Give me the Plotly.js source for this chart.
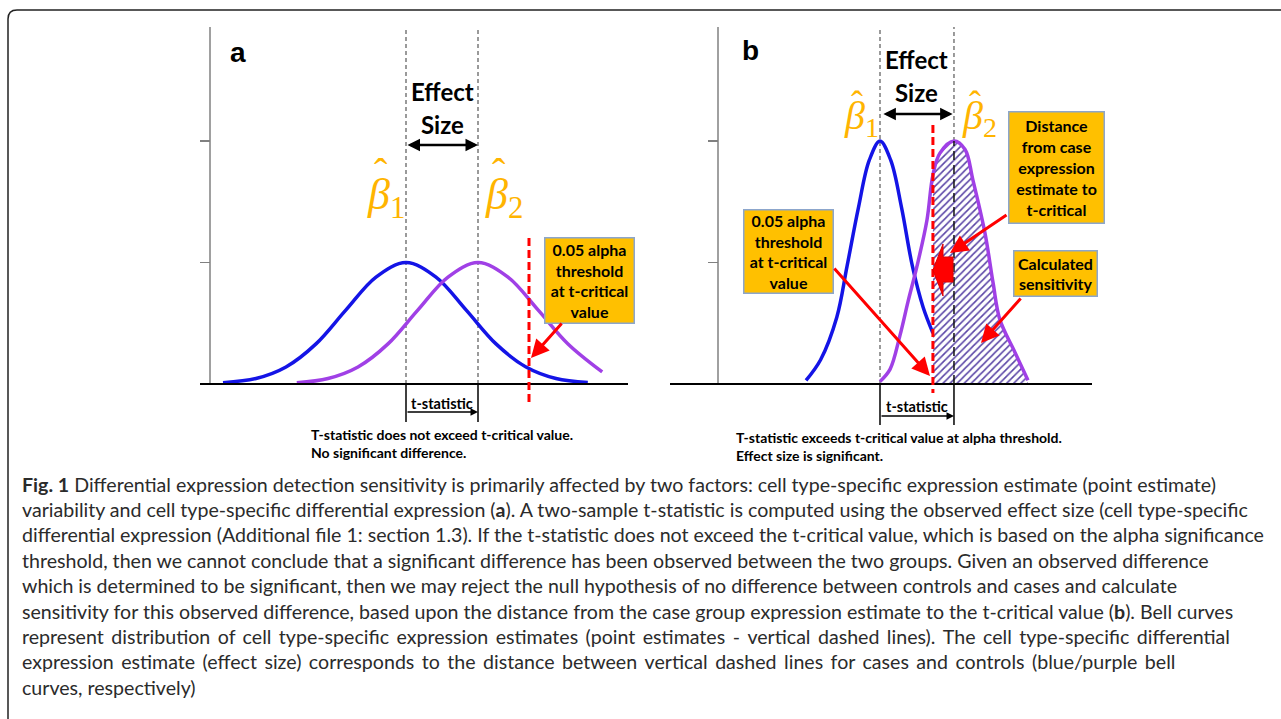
<!DOCTYPE html>
<html>
<head>
<meta charset="utf-8">
<script src="https://cdn.plot.ly/plotly-3.0.1.min.js"></script>
<style>html,body{margin:0;padding:0;background:#fff;}#chart{width:1281px;height:719px;}</style>
</head>
<body>
<div id="chart"></div>
<script>
// ---------------- data ----------------
// Panel a: x in units of one SD of the bell curves, y in y-tick units
const meansA = [0, 1.2];          // beta1 (controls, blue), beta2 (cases, purple)
const tCritA = 2.05;              // t-critical (red dashed)
const blueA_x = [-3.05, -2.5, -2, -1.5, -1, -0.5, 0, 0.5, 1, 1.5, 2, 2.5, 3.03];
const blueA_y = [0.01, 0.045, 0.14, 0.33, 0.61, 0.88, 1, 0.88, 0.61, 0.33, 0.14, 0.045, 0.012];
const purpleA_x = [-1.82, -1.3, -0.8, -0.3, 0.2, 0.7, 1.2, 1.7, 2.2, 2.7, 3.27];
const purpleA_y = [0.01, 0.045, 0.14, 0.33, 0.61, 0.88, 1, 0.88, 0.61, 0.33, 0.1];

// Panel b
const meansB = [0, 2.74];
const tCritB = 1.96;
const blueB_x = [-2.74, -2.2, -1.6, -1.22, -0.8, -0.4, 0, 0.4, 0.8, 1.2, 1.6, 1.96];
const blueB_y = [0.03, 0.2, 0.55, 0.97, 1.45, 1.84, 2.0, 1.84, 1.45, 0.97, 0.63, 0.42];
const purpleB_x = [0, 0.37, 0.74, 1.04, 1.37, 1.74, 1.96, 2.22, 2.74, 3.15, 3.44, 3.89, 4.19, 4.44, 5.0, 5.48];
const purpleB_y = [0.02, 0.12, 0.4, 0.68, 0.97, 1.35, 1.72, 1.9, 2.0, 1.93, 1.68, 1.24, 0.83, 0.53, 0.26, 0.03];

const yTicks = [1, 2];

// texts
const panelLabels = ['a', 'b'];
const effectWords = ['Effect', 'Size'];
const betaLabels = ['<i>β</i><sub>1</sub>', '<i>β</i><sub>2</sub>'];
const hatLabel = 'ˆ';
const tStatLabel = 't-statistic';
const alphaBoxLines = ['0.05 alpha', 'threshold', 'at t-critical', 'value'];
const distanceBoxLines = ['Distance', 'from case', 'expression', 'estimate to', 't-critical'];
const sensitivityBoxLines = ['Calculated', 'sensitivity'];
const noteA = ['T-statistic does not exceed t-critical value.', 'No significant difference.'];
const noteB = ['T-statistic exceeds t-critical value at alpha threshold.', 'Effect size is significant.'];
const captionLines = [
  '<b>Fig. 1</b> Differential expression detection sensitivity is primarily affected by two factors: cell type-specific expression estimate (point estimate)',
  'variability and cell type-specific differential expression (<b>a</b>). A two-sample t-statistic is computed using the observed effect size (cell type-specific',
  'differential expression (Additional file 1: section 1.3). If the t-statistic does not exceed the t-critical value, which is based on the alpha significance',
  'threshold, then we cannot conclude that a significant difference has been observed between the two groups. Given an observed difference',
  'which is determined to be significant, then we may reject the null hypothesis of no difference between controls and cases and calculate',
  'sensitivity for this observed difference, based upon the distance from the case group expression estimate to the t-critical value (<b>b</b>). Bell curves',
  'represent distribution of cell type-specific expression estimates (point estimates - vertical dashed lines). The cell type-specific differential',
  'expression estimate (effect size) corresponds to the distance between vertical dashed lines for cases and controls (blue/purple bell',
  'curves, respectively)'
];
// word spacing of the justified caption lines (index -> separator)
const captionSpacing = {6: ' \u2009', 7: ' \u2009'};

// ---------------- layout helpers ----------------
const W = 1281, H = 719;
const pxA = x => (x - 406) / 60;     // panel a pixel -> data
const pxB = x => (x - 880) / 27;     // panel b pixel -> data
const pyY = y => (384 - y) / 121.5;  // pixel -> y data (both panels)
const yTop = pyY(27), yBot = pyY(470);
const paperX = x => x / W, paperY = y => 1 - y / H;

const BLUE = '#1414E6', PURPLE = '#A040E6', RED = '#FF0000', GOLD = '#FFB400';
const BOLD = 'Lato, "Open Sans", sans-serif';

// hatch region = purple curve right of t-critical
const hatchX = [], hatchY = [];
purpleB_x.forEach((v, i) => { if (v >= tCritB) { hatchX.push(v); hatchY.push(purpleB_y[i]); } });

const traces = [
  {x: blueA_x, y: blueA_y, xaxis: 'x', yaxis: 'y', mode: 'lines', line: {color: BLUE, width: 3.5, shape: 'spline'}, hoverinfo: 'skip'},
  {x: purpleA_x, y: purpleA_y, xaxis: 'x', yaxis: 'y', mode: 'lines', line: {color: PURPLE, width: 3.5, shape: 'spline'}, hoverinfo: 'skip'},
  {x: blueB_x, y: blueB_y, xaxis: 'x2', yaxis: 'y2', mode: 'lines', line: {color: BLUE, width: 3.5, shape: 'spline'}, hoverinfo: 'skip'},
  {x: hatchX, y: hatchY, xaxis: 'x2', yaxis: 'y2', mode: 'none', fill: 'tozeroy', fillcolor: 'rgba(0,0,0,0)',
   line: {shape: 'spline'},
   fillpattern: {shape: '/', fgcolor: '#5A45A6', bgcolor: '#FFFFFF', size: 5, solidity: 0.32}, hoverinfo: 'skip'},
  {x: purpleB_x, y: purpleB_y, xaxis: 'x2', yaxis: 'y2', mode: 'lines', line: {color: PURPLE, width: 3.5, shape: 'spline'}, hoverinfo: 'skip'}
];

const shapes = [];
function vline(xref, yref, x, y0, y1, color, width, dash, layer) {
  shapes.push({type: 'line', xref, yref, x0: x, x1: x, y0, y1, layer: layer || 'above',
               line: {color, width, dash: dash || 'solid'}});
}
// y-axis lines and baselines
vline('x', 'y', pxA(210), 0, yTop, '#808080', 1.5, 'solid', 'below');
vline('x2', 'y2', pxB(718), 0, yTop, '#808080', 1.5, 'solid', 'below');
shapes.push({type: 'line', xref: 'x domain', yref: 'y', x0: 0, x1: 1, y0: 0, y1: 0, line: {color: '#000', width: 2}});
shapes.push({type: 'line', xref: 'x2 domain', yref: 'y2', x0: 0, x1: 1, y0: 0, y1: 0, line: {color: '#000', width: 2}});
// panel a point-estimate lines
meansA.forEach(m => vline('x', 'y', m, 0, yTop, '#7a7a7a', 1.5, '4px,3px', 'below'));
meansA.forEach(m => vline('x', 'y', m, 0, pyY(422), '#000', 1.5));
vline('x', 'y', tCritA, pyY(238), pyY(404), RED, 3, '8px,4px');
// panel b
const peakB = Math.max(...purpleB_y);
vline('x2', 'y2', meansB[0], 0, yTop, '#7a7a7a', 1.5, '4px,3px', 'below');
vline('x2', 'y2', meansB[1], peakB, yTop, '#7a7a7a', 1.5, '4px,3px', 'below');
vline('x2', 'y2', meansB[1], 0, peakB, '#111', 1.5, '9px,5px');
meansB.forEach(m => vline('x2', 'y2', m, 0, pyY(425), '#000', 1.5));
vline('x2', 'y2', tCritB, pyY(125), pyY(393), RED, 3, '8px,4px');
// red block arrow pointing to t-critical
(function () {
  const tip = [tCritB, pyY(270)], hx = pxB(943), bx = pxB(953);
  const p = [[tip[0], tip[1]], [hx, pyY(244)], [hx, pyY(257)], [bx, pyY(257)], [bx, pyY(282)], [hx, pyY(282)], [hx, pyY(296)]];
  shapes.push({type: 'path', xref: 'x2', yref: 'y2', path: 'M' + p.map(q => q[0] + ',' + q[1]).join(' L') + ' Z',
               fillcolor: RED, line: {color: '#E00000', width: 1}, layer: 'above'});
})();
// outer rounded frame
(function () {
  const r = 9, x0 = 8, y0 = 10;
  const path = `M${paperX(x0)},${paperY(H + 20)} L${paperX(x0)},${paperY(y0 + r)} Q${paperX(x0)},${paperY(y0)} ${paperX(x0 + r)},${paperY(y0)} L${paperX(W + 20)},${paperY(y0)}`;
  shapes.push({type: 'path', xref: 'paper', yref: 'paper', path, line: {color: '#222', width: 1.5}});
})();

const ann = [];
function txt(xref, yref, x, y, text, size, opts) {
  ann.push(Object.assign({xref, yref, x, y, text, showarrow: false, xanchor: 'center', yanchor: 'middle',
    font: {family: BOLD, size, color: '#000', weight: 700}}, opts || {}));
}
function arrow(xref, yref, tail, head, color, width, both, size) {
  ann.push({xref, yref, axref: xref, ayref: yref, x: head[0], y: head[1], ax: tail[0], ay: tail[1], text: '',
    showarrow: true, arrowhead: 2, arrowsize: size || 1, arrowwidth: width, arrowcolor: color,
    arrowside: both ? 'end+start' : 'end', standoff: 0, startstandoff: 0});
}
function box(xref, yref, x, y, w, h, lines) {
  ann.push({xref, yref, x, y, text: lines.join('<br>'), showarrow: false, xanchor: 'center', yanchor: 'middle',
    width: w, height: h, bgcolor: '#FFC000', bordercolor: '#8CA6CC', borderwidth: 1.5, borderpad: 0,
    align: 'center', valign: 'middle', font: {family: BOLD, size: 16, color: '#000', weight: 700}});
}

// panel labels
const labelFont = {family: 'Liberation Sans, Arial, sans-serif', size: 28, color: '#000', weight: 700};
txt('x', 'y', pxA(238), pyY(53), panelLabels[0], 28, {font: labelFont});
txt('x2', 'y2', pxB(750), pyY(51), panelLabels[1], 28, {font: labelFont});
// effect size
txt('x', 'y', (meansA[0] + meansA[1]) / 2, pyY(92), effectWords[0], 24);
txt('x', 'y', (meansA[0] + meansA[1]) / 2, pyY(125), effectWords[1], 24);
arrow('x', 'y', [meansA[0], pyY(145)], [meansA[1], pyY(145)], '#000', 2.5, true, 1);
txt('x2', 'y2', (meansB[0] + meansB[1]) / 2, pyY(60), effectWords[0], 24);
txt('x2', 'y2', (meansB[0] + meansB[1]) / 2, pyY(93), effectWords[1], 24);
arrow('x2', 'y2', [meansB[0] + 0.07, pyY(114)], [meansB[1] - 0.05, pyY(114)], '#000', 2.5, true, 1);
// betas with hats
const betaFontA = {family: '"Liberation Serif", "DejaVu Serif", serif', size: 44, color: GOLD};
const betaFontB = {family: '"Liberation Serif", "DejaVu Serif", serif', size: 40, color: GOLD};
const hatFont = {family: '"Liberation Serif", "DejaVu Serif", serif', size: 40, color: GOLD};
txt('x', 'y', pxA(386), pyY(197), betaLabels[0], 44, {font: betaFontA});
txt('x', 'y', pxA(504), pyY(197), betaLabels[1], 44, {font: betaFontA});
txt('x', 'y', pxA(381), pyY(172), hatLabel, 40, {font: hatFont});
txt('x', 'y', pxA(499), pyY(172), hatLabel, 40, {font: hatFont});
txt('x2', 'y2', pxB(861), pyY(118), betaLabels[0], 40, {font: betaFontB});
txt('x2', 'y2', pxB(979), pyY(118), betaLabels[1], 40, {font: betaFontB});
txt('x2', 'y2', pxB(857), pyY(104), hatLabel, 36, {font: Object.assign({}, hatFont, {size: 36})});
txt('x2', 'y2', pxB(975), pyY(104), hatLabel, 36, {font: Object.assign({}, hatFont, {size: 36})});
// t-statistic brackets
arrow('x', 'y', [meansA[0], pyY(412)], [meansA[1], pyY(412)], '#000', 1.5, false, 1);
txt('x', 'y', (meansA[0] + meansA[1]) / 2, pyY(403), tStatLabel, 14.5);
arrow('x2', 'y2', [meansB[0], pyY(416)], [meansB[1], pyY(416)], '#000', 1.5, false, 1);
txt('x2', 'y2', (meansB[0] + meansB[1]) / 2, pyY(406), tStatLabel, 14.5);
// notes under panels
txt('x', 'y', pxA(309), pyY(443), noteA.join('<br>'), 14, {xanchor: 'left', align: 'left'});
txt('x2', 'y2', pxB(734), pyY(446), noteB.join('<br>'), 14, {xanchor: 'left', align: 'left'});
// boxes
box('x', 'y', pxA(589.5), pyY(280), 88, 84, alphaBoxLines);
box('x2', 'y2', pxB(1056.5), pyY(167), 94, 110, distanceBoxLines);
box('x2', 'y2', pxB(788.5), pyY(251), 88, 82, alphaBoxLines);
box('x2', 'y2', pxB(1055.5), pyY(273), 82, 44, sensitivityBoxLines);
// red arrows
arrow('x', 'y', [pxA(563), pyY(322)], [pxA(531), pyY(358)], RED, 3, false, 1.2);
arrow('x2', 'y2', [pxB(833), pyY(267)], [pxB(930), pyY(376)], RED, 3, false, 1.2);
arrow('x2', 'y2', [pxB(1008), pyY(214)], [pxB(950), pyY(253)], RED, 3, false, 1.2);
arrow('x2', 'y2', [pxB(1022), pyY(297)], [pxB(981), pyY(343)], RED, 3, false, 1.2);
// caption
captionLines.forEach((t, i) => {
  const text = captionSpacing[i] ? t.split(' ').join(captionSpacing[i]) : t;
  ann.push({xref: 'paper', yref: 'paper', x: paperX(20), y: paperY(484 + i * 25.4), text, showarrow: false,
    xanchor: 'left', yanchor: 'middle', align: 'left',
    font: {family: 'Lato, "Open Sans", sans-serif', size: 19.6, color: '#2b2b2b'}});
});

const yax = {domain: [paperY(470), paperY(27)], range: [yBot, yTop], anchor: 'free', tickvals: yTicks,
  ticks: 'outside', ticklen: 10, tickwidth: 1.5, tickcolor: '#808080', showticklabels: false,
  showgrid: false, zeroline: false, showline: false, fixedrange: true};
const layout = {
  width: W, height: H, autosize: false, margin: {l: 0, r: 0, t: 0, b: 0},
  paper_bgcolor: '#fff', plot_bgcolor: 'rgba(0,0,0,0)', showlegend: false,
  xaxis: {domain: [200 / W, 628 / W], range: [pxA(200), pxA(628)], visible: false, fixedrange: true},
  yaxis: Object.assign({}, yax, {position: 210 / W}),
  xaxis2: {domain: [670 / W, 1092 / W], range: [pxB(670), pxB(1092)], visible: false, fixedrange: true},
  yaxis2: Object.assign({}, yax, {position: 718 / W}),
  shapes, annotations: ann
};
Plotly.newPlot('chart', traces, layout, {displayModeBar: false, staticPlot: true});
</script>
</body>
</html>
